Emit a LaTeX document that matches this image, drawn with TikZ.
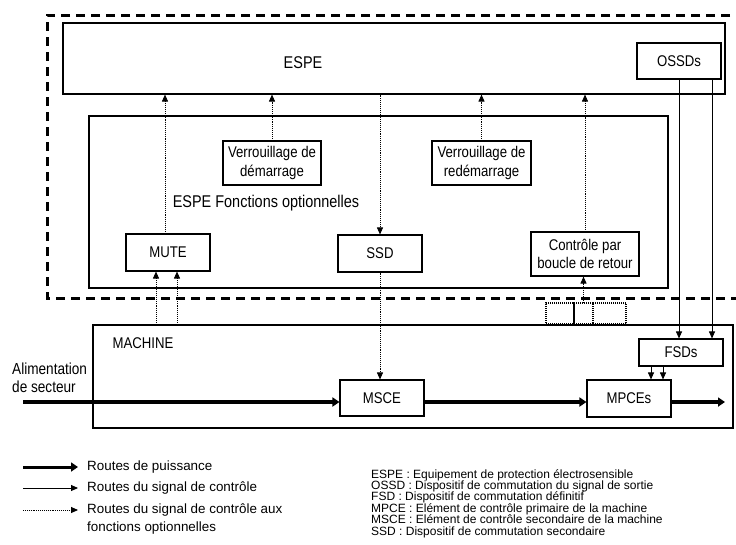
\documentclass[tikz,border=0pt]{standalone}
\usepackage{fontspec}
\setmainfont{Liberation Sans}
\newfontfamily\narrowsans[FakeStretch=0.85]{Liberation Sans}
\usetikzlibrary{arrows.meta, positioning, calc}

\begin{document}
\begin{tikzpicture}[
    x=1pt, y=-1pt,
    box/.style={rectangle, draw=black, line width=1.1pt, inner sep=0pt, align=center, font=\narrowsans\fontsize{15.5}{18.5}\selectfont},
    cell/.style={rectangle, draw=black, dash pattern=on 1pt off 1pt, line width=1.2pt, inner sep=0pt, minimum height=21pt},
    lbl/.style={inner sep=0pt, align=left, font=\narrowsans\fontsize{17}{20}\selectfont},
    legend/.style={inner sep=0pt, align=left, font=\fontsize{13.4}{18}\selectfont},
    power/.style={-{Triangle[length=7pt,width=9pt]}, line width=3.5pt},
    sigarrow/.style={-{Triangle[length=7pt,width=6pt]}, line width=0.9pt},
    optarrow/.style={-{Triangle[length=7pt,width=6pt]}, line width=0.9pt, densely dotted},
    zone/.style={line width=3pt, dash pattern=on 9pt off 6pt}
]
\useasboundingbox (0,0) rectangle (736,544);

\draw[zone] (745,15) -| (47,298) -- (745,298);

\node[box, minimum width=662pt, minimum height=71pt] (espe) at (394,58.5) {};
\node[lbl] (espetitle) at (303,63) {ESPE};
\node[box, minimum width=84pt, minimum height=36pt] (ossds) at (679,61) {OSSDs};

\node[box, minimum width=579pt, minimum height=172pt] (optfn) at (378.5,202) {};
\node[lbl] (optfntitle) at (266,203) {ESPE Fonctions optionnelles};
\node[box, minimum width=98pt, minimum height=44pt] (vdem) at (272,163) {Verrouillage de\\démarrage};
\node[box, minimum width=99pt, minimum height=44pt] (vredem) at (481.5,163) {Verrouillage de\\redémarrage};
\node[box, minimum width=84pt, minimum height=37pt] (mute) at (168,252.5) {MUTE};
\node[box, minimum width=84pt, minimum height=37pt] (ssd) at (380,253.5) {SSD};
\node[box, minimum width=108pt, minimum height=44pt] (retour) at (585,254) {Contrôle par\\boucle de retour};

\node[cell, minimum width=28pt] (cella) at (560,313.5) {};
\node[cell, minimum width=19pt] (cellb) at (583.5,313.5) {};
\node[cell, minimum width=33pt] (cellc) at (609.5,313.5) {};

\node[box, minimum width=640pt, minimum height=103pt] (machine) at (413,376.5) {};
\node[lbl, font=\narrowsans\fontsize{15.5}{18}\selectfont] (machinetitle) at (143,343) {MACHINE};
\node[box, minimum width=84pt, minimum height=27pt] (fsd) at (681,352.5) {FSDs};
\node[box, minimum width=84pt, minimum height=36pt] (msce) at (382,398) {MSCE};
\node[box, minimum width=84pt, minimum height=37pt] (mpce) at (629,398.5) {MPCEs};
\node[lbl, anchor=west, font=\narrowsans\fontsize{16}{18}\selectfont] (mainslbl) at (12,378) {Alimentation\\de secteur};

\coordinate (mains) at (23,402);
\coordinate (powerout) at (725,402);

\draw[optarrow] ([xshift=-3pt]mute.north) -- ([xshift=-3pt]mute.north |- espe.south);
\draw[optarrow] (vdem.north) -- (vdem.north |- espe.south);
\draw[optarrow] (espe.south -| ssd.north) -- (ssd.north);
\draw[optarrow] (vredem.north) -- (vredem.north |- espe.south);
\draw[optarrow] (retour.north) -- (retour.north |- espe.south);
\draw[optarrow] ([xshift=-12pt]mute.south |- machine.north) -- ([xshift=-12pt]mute.south);
\draw[optarrow] ([xshift=9pt]mute.south |- machine.north) -- ([xshift=9pt]mute.south);
\draw[optarrow] (ssd.south) -- (ssd.south |- msce.north);
\draw[optarrow] (cellb.north) -- (cellb.north |- retour.south);

\draw[sigarrow] (ossds.south) -- (ossds.south |- fsd.north);
\draw[sigarrow] ([xshift=33pt]ossds.south) -- ([xshift=33pt]ossds.south |- fsd.north);
\draw[sigarrow] ([xshift=-30pt]fsd.south) -- ([xshift=-30pt]fsd.south |- mpce.north);
\draw[sigarrow] ([xshift=-18pt]fsd.south) -- ([xshift=-18pt]fsd.south |- mpce.north);

\draw[power] (mains) -- (mains -| msce.west);
\draw[power] (msce.east |- mains) -- (mpce.west |- mains);
\draw[power] (mpce.east |- powerout) -- (powerout);

\coordinate (lgpow) at (23,467);
\coordinate (lgpowend) at (78,467);
\coordinate (lgsig) at (23,488);
\coordinate (lgsigend) at (78,488);
\coordinate (lgopt) at (23,510);
\coordinate (lgoptend) at (78,510);
\node[legend, anchor=west] (tpow) at (87,467) {Routes de puissance};
\node[legend, anchor=west] (tsig) at (87,488) {Routes du signal de contrôle};
\node[legend, anchor=west] (topt) at (87,519) {Routes du signal de contrôle aux\\fonctions optionnelles};
\draw[power, line width=3pt] (lgpow) -- (lgpowend);
\draw[sigarrow] (lgsig) -- (lgsigend);
\draw[optarrow] (lgopt) -- (lgoptend);

\node[inner sep=0pt, anchor=north west, align=left, font=\fontsize{12}{11.4}\selectfont] (abbrev) at (371,469)
  {ESPE : Equipement de protection électrosensible\\
   OSSD : Dispositif de commutation du signal de sortie\\
   FSD : Dispositif de commutation définitif\\
   MPCE : Elément de contrôle primaire de la machine\\
   MSCE : Elément de contrôle secondaire de la machine\\
   SSD : Dispositif de commutation secondaire};
\end{tikzpicture}
\end{document}
